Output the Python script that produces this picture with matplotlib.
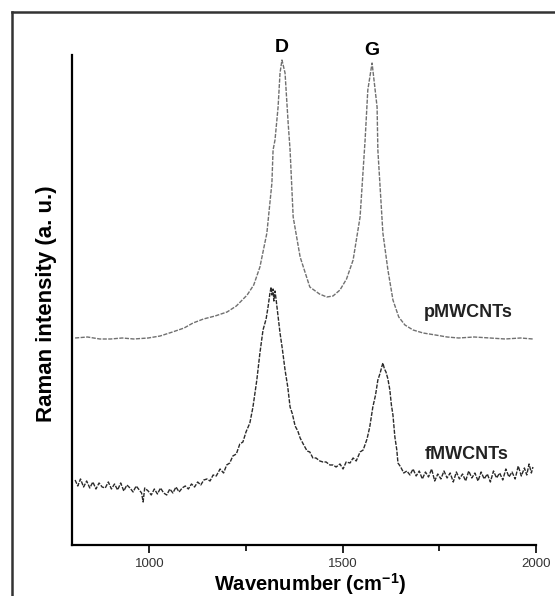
import matplotlib.pyplot as plt
from matplotlib.lines import Line2D

plt.rcParams['font.family'] = ['Liberation Sans', 'DejaVu Sans']
plt.rcParams['mathtext.fontset'] = 'custom'
plt.rcParams['mathtext.rm'] = 'Liberation Sans'
plt.rcParams['mathtext.bf'] = 'Liberation Sans:bold'

# pMWCNTs spectrum (wavenumber, intensity a.u.)
p_wavenumber = [808, 840, 872, 900, 930, 960, 997, 1028, 1060, 1090, 1113, 1140,
                1170, 1201, 1225, 1253, 1270, 1286, 1304, 1317, 1320, 1325, 1333,
                1338, 1343, 1351, 1359, 1364, 1372, 1390, 1415, 1440, 1459, 1475,
                1493, 1510, 1527, 1545, 1558, 1565, 1576, 1589, 1591, 1604, 1617,
                1630, 1645, 1661, 1682, 1708, 1740, 1770, 1800, 1840, 1881, 1920,
                1960, 1992]
p_intensity = [207, 208, 206, 206, 207, 206, 207, 209, 213, 217, 222, 226,
               229, 233, 239, 250, 260, 278, 312, 362, 395, 405, 438,
               472, 485, 472, 422, 395, 328, 288, 258, 251, 248, 249,
               255, 266, 285, 328, 405, 455, 482, 438, 395, 312, 275,
               245, 228, 220, 215, 212, 210, 208, 207, 208, 207, 206,
               207, 206]

# fMWCNTs spectrum (wavenumber, intensity a.u.)
f_wavenumber = [808, 815, 822, 830, 838, 846, 854, 862, 870, 878, 886, 894,
                902, 910, 918, 926, 934, 942, 950, 958, 966, 974, 980, 984,
                988, 997, 1005, 1013, 1021, 1029, 1037, 1045, 1053, 1061, 1069,
                1077, 1085, 1093, 1101, 1109, 1117, 1125, 1133, 1141, 1149, 1157,
                1165, 1173, 1183, 1192, 1200, 1208, 1216, 1225, 1234, 1242, 1250,
                1260, 1268, 1278, 1286, 1294, 1302, 1307, 1312, 1315, 1317, 1320,
                1322, 1325, 1328, 1332, 1338, 1344, 1351, 1358, 1364, 1370, 1377,
                1384, 1390, 1398, 1408, 1415, 1423, 1431, 1441, 1449, 1457, 1467,
                1475, 1483, 1493, 1501, 1509, 1519, 1527, 1535, 1545, 1553, 1563,
                1570, 1578, 1585, 1591, 1597, 1601, 1604, 1608, 1612, 1617, 1622,
                1626, 1630, 1635, 1640, 1643, 1650, 1658, 1666, 1674, 1682, 1690,
                1698, 1706, 1714, 1722, 1730, 1738, 1746, 1754, 1762, 1770, 1778,
                1786, 1794, 1802, 1810, 1818, 1826, 1834, 1842, 1850, 1858, 1866,
                1874, 1882, 1890, 1898, 1906, 1914, 1922, 1930, 1938, 1946, 1954,
                1962, 1970, 1976, 1982, 1988, 1992]
f_intensity = [65, 59, 66, 58, 64, 57, 63, 56, 62, 58, 57, 63,
               56, 61, 55, 62, 54, 60, 57, 53, 59, 55, 52, 43,
               57, 54, 50, 56, 51, 57, 52, 50, 56, 52, 58, 53,
               57, 59, 56, 61, 58, 63, 60, 65, 66, 64, 70,
               69, 76, 72, 80, 82, 89, 91, 101, 103, 113,
               122, 138, 165, 192, 215, 226, 238, 252, 258, 250, 256,
               244, 254, 245, 232, 212, 196, 175, 158, 138, 131, 119,
               114, 107, 101, 94, 93, 87, 87, 84, 83, 83, 80,
               80, 78, 81, 76, 83, 82, 87, 84, 93, 95, 106,
               118, 138, 150, 165, 172, 178, 182, 176, 173, 166, 155,
               140, 130, 108, 95, 82, 78, 72, 74, 70, 76, 69,
               74, 66, 73, 68, 76, 64, 71, 66, 74, 67, 72,
               63, 73, 66, 71, 64, 74, 67, 72, 64, 73, 66,
               71, 63, 74, 67, 72, 65, 76, 68, 73, 66, 79,
               69, 77, 70, 81, 72, 78]

x_major = [1000, 1500, 2000]
x_minor = [1250, 1750]

fig = plt.figure(figsize=(5.55, 5.96), dpi=100)
ax = fig.add_axes([0.1297, 0.0856, 0.8361, 0.8221])

ax.plot(p_wavenumber, p_intensity, color='#707070', lw=1.0, ls=(0, (3, 1)))
ax.plot(f_wavenumber, f_intensity, color='#2a2a2a', lw=1.0, ls=(0, (3, 1)))

ax.set_xlim(800, 2000)
ax.set_ylim(0, 490)

ax.spines['top'].set_visible(False)
ax.spines['right'].set_visible(False)
ax.spines['left'].set_linewidth(1.6)
ax.spines['bottom'].set_linewidth(1.6)
ax.set_yticks([])
ax.set_xticks(x_major)
ax.set_xticks(x_minor, minor=True)
ax.tick_params(axis='x', which='major', direction='out', length=6, width=1.2,
               labelsize=9.5, labelcolor='#333333', pad=3.5)
ax.tick_params(axis='x', which='minor', direction='out', length=4, width=1.2)

ax.set_xlabel('Wavenumber (cm$^{\\mathbf{-1}}$)', fontsize=14.5, fontweight='bold')
ax.xaxis.set_label_coords(0.513, -0.053)
ax.set_ylabel('Raman intensity (a. u.)', fontsize=16, fontweight='bold')
ax.yaxis.set_label_coords(-0.033, 0.492)

ax.text(1343, 493, 'D', fontsize=14, fontweight='bold', ha='center', va='baseline',
        clip_on=False)
ax.text(1576, 490, 'G', fontsize=14, fontweight='bold', ha='center', va='baseline',
        clip_on=False)
ax.text(1824, 232, 'pMWCNTs', fontsize=13, fontweight='bold', ha='center', va='center',
        color='#222222')
ax.text(1822, 90, 'fMWCNTs', fontsize=13, fontweight='bold', ha='center', va='center',
        color='#222222')

# outer frame (only top and left edges fall inside the image)
fig.add_artist(Line2D([0.0216, 1.0], [0.98, 0.98], color='#333333', lw=1.8,
                      transform=fig.transFigure))
fig.add_artist(Line2D([0.0216, 0.0216], [0.0, 0.98], color='#333333', lw=1.8,
                      transform=fig.transFigure))

fig.savefig('out.png', dpi=100)
